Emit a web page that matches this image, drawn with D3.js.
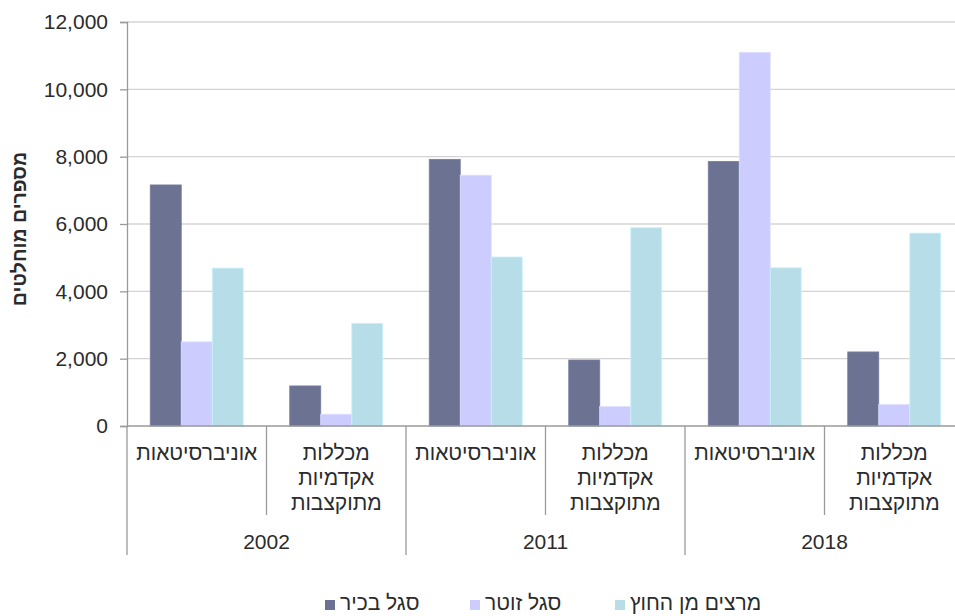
<!DOCTYPE html>
<html lang="he">
<head>
<meta charset="utf-8">
<script src="https://cdn.jsdelivr.net/npm/d3@7/dist/d3.min.js"></script>
<style>
  html, body { margin: 0; padding: 0; background: #fff; }
  svg { display: block; font-family: "Liberation Sans", Arial, sans-serif; }
</style>
</head>
<body>
<svg id="chart" width="955" height="616"></svg>
<script>
// ---------- data ----------
const years = ["2002", "2011", "2018"];
const categories = ["אוניברסיטאות", "מכללות אקדמיות מתוקצבות"];
const seriesNames = ["סגל בכיר", "סגל זוטר", "מרצים מן החוץ"];
// values per [year][category]
const seniorStaff   = [[7160, 1190], [7920, 1960], [7860, 2200]];
const juniorStaff   = [[2500, 350],  [7450, 580],  [11100, 640]];
const externalStaff = [[4690, 3050], [5020, 5890], [4700, 5730]];
const yTicks = [0, 2000, 4000, 6000, 8000, 10000, 12000];
const yTitle = "מספרים מוחלטים";
const colors = ["#6b7292", "#ccccff", "#b7dee8"];

// ---------- layout ----------
const svg = d3.select("#chart");
const plotLeft = 127, plotRight = 964, plotTop = 22, plotBottom = 426;
const textColor = "#2b2b2b";
const fontSize = 21;

const cells = [];
years.forEach((yr, yi) => categories.forEach((c, ci) => cells.push({yr, yi, c, ci, key: yr + "|" + c})));

const x0 = d3.scaleBand().domain(cells.map(d => d.key)).range([plotLeft, plotRight]).paddingInner(0).paddingOuter(0);
const x1 = d3.scaleBand().domain(seriesNames).range([0, x0.bandwidth()]).paddingInner(0).paddingOuter(0.75);
const y = d3.scaleLinear().domain([0, 12000]).range([plotBottom, plotTop]);

const allSeries = [seniorStaff, juniorStaff, externalStaff];

// gridlines
svg.append("g").selectAll("line").data(yTicks.filter(t => t > 0)).join("line")
  .attr("x1", plotLeft).attr("x2", plotRight)
  .attr("y1", d => y(d)).attr("y2", d => y(d))
  .attr("stroke", "#d4d4d4").attr("stroke-width", 1.3);

// bars
const gCells = svg.append("g").selectAll("g").data(cells).join("g")
  .attr("transform", d => `translate(${x0(d.key)},0)`);
gCells.selectAll("rect").data(d => seriesNames.map((s, si) => ({s, si, v: allSeries[si][d.yi][d.ci]})))
  .join("rect")
  .attr("x", d => x1(d.s))
  .attr("width", x1.bandwidth())
  .attr("y", d => y(d.v))
  .attr("height", d => y(0) - y(d.v))
  .attr("fill", d => colors[d.si])
  .attr("stroke", d => d3.color(colors[d.si]).brighter(0.25))
  .attr("stroke-width", 0.8);

// y axis
const axisColor = "#9a9a9a";
const yAxis = svg.append("g").attr("transform", `translate(${plotLeft},0)`)
  .call(d3.axisLeft(y).tickValues(yTicks).tickSize(7).tickPadding(12).tickFormat(d3.format(",")));
yAxis.select(".domain").attr("stroke", axisColor).attr("stroke-width", 1.3);
yAxis.selectAll(".tick line").attr("stroke", axisColor).attr("stroke-width", 1.3);
yAxis.selectAll(".tick text").attr("fill", textColor).attr("font-size", fontSize)
  .attr("font-family", "Liberation Sans, Arial, sans-serif");

// y title
svg.append("text")
  .attr("transform", `translate(26,229) rotate(-90)`)
  .attr("text-anchor", "middle")
  .attr("font-weight", "bold")
  .attr("font-size", 19.5)
  .attr("fill", textColor)
  .text(yTitle);

// x axis baseline
svg.append("line").attr("x1", plotLeft).attr("x2", plotRight).attr("y1", plotBottom).attr("y2", plotBottom)
  .attr("stroke", axisColor).attr("stroke-width", 1.3);
// left axis extension
svg.append("line").attr("x1", plotLeft).attr("x2", plotLeft).attr("y1", plotBottom).attr("y2", 555)
  .attr("stroke", axisColor).attr("stroke-width", 1.3);

// separators
cells.forEach((d, i) => {
  if (i === 0) return;
  const xx = x0(d.key);
  const isGroup = d.ci === 0;
  svg.append("line").attr("x1", xx).attr("x2", xx).attr("y1", plotBottom).attr("y2", isGroup ? 555 : 515)
    .attr("stroke", axisColor).attr("stroke-width", 1.3);
});

// category labels
const catG = svg.append("g").selectAll("text").data(cells).join("text")
  .attr("text-anchor", "middle")
  .attr("font-size", fontSize)
  .attr("fill", textColor)
  .attr("x", d => x0(d.key) + x0.bandwidth() / 2)
  .attr("y", 460);
catG.each(function(d) {
  const words = d.c.split(" ");
  const t = d3.select(this);
  words.forEach((w, i) => {
    t.append("tspan").attr("x", x0(d.key) + x0.bandwidth() / 2).attr("dy", i === 0 ? 0 : 25).text(w);
  });
});

// year labels
svg.append("g").selectAll("text").data(years).join("text")
  .attr("text-anchor", "middle")
  .attr("font-size", fontSize)
  .attr("fill", textColor)
  .attr("x", d => (x0(d + "|" + categories[0]) + x0(d + "|" + categories[1]) + x0.bandwidth()) / 2)
  .attr("y", 549)
  .text(d => d);

// legend
const legendX = [325, 470, 615];
const lg = svg.append("g").selectAll("g").data(seriesNames).join("g")
  .attr("transform", (d, i) => `translate(${legendX[i]},600)`);
lg.append("rect").attr("width", 10).attr("height", 10).attr("fill", (d, i) => colors[i]);
lg.append("text").attr("x", 15).attr("y", 10).attr("font-size", fontSize).attr("fill", textColor)
  .attr("text-anchor", "start").text(d => d);
</script>
</body>
</html>
